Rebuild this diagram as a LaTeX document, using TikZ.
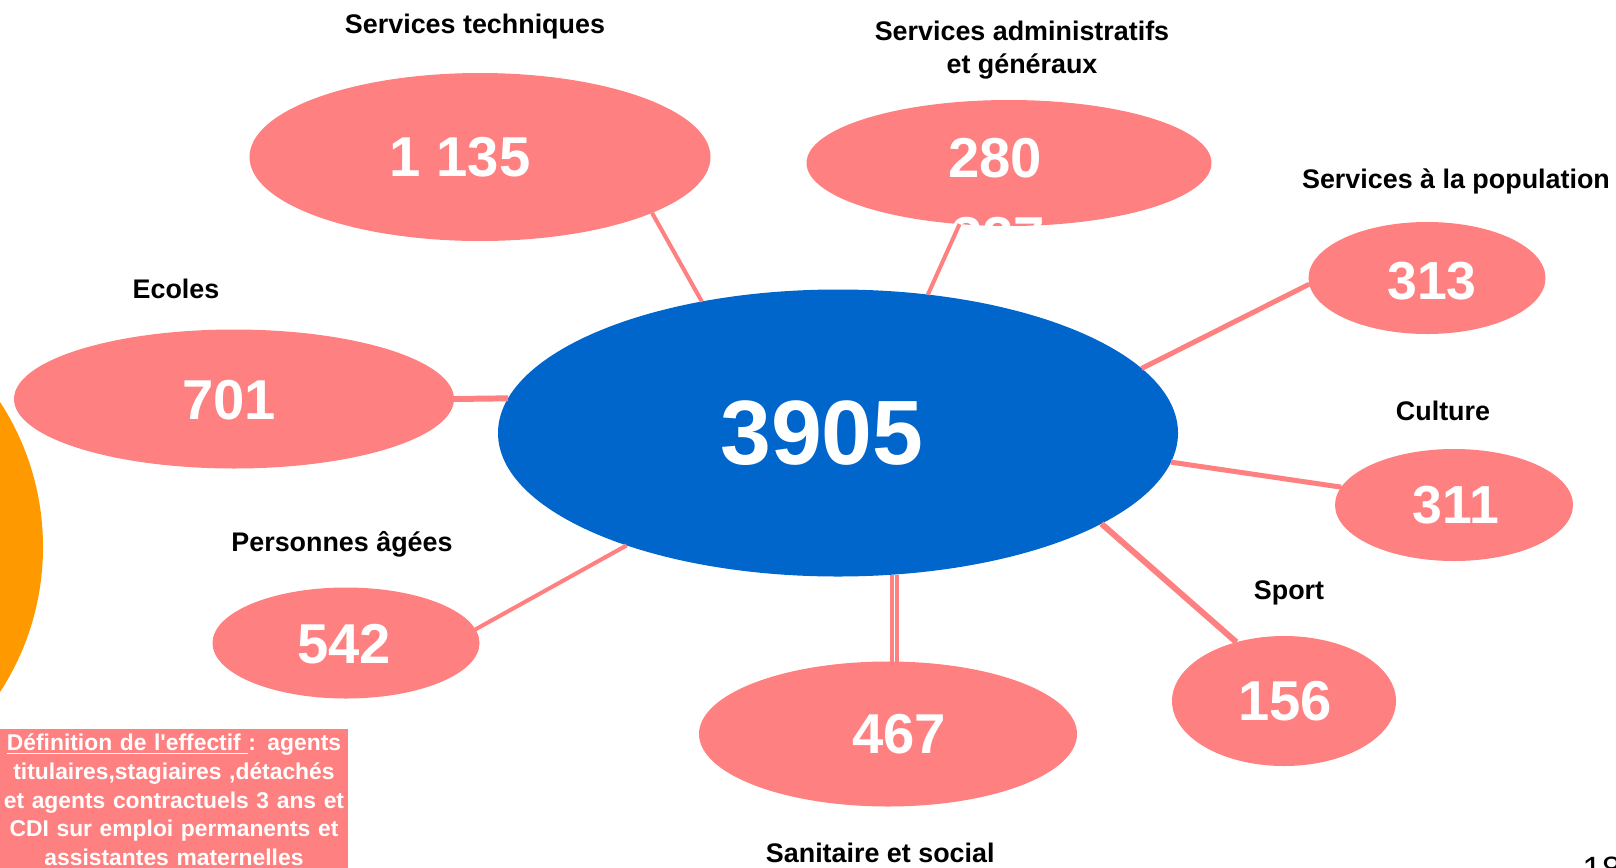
\documentclass[tikz,border=0pt]{standalone}
\usepackage{fontspec}
\setmainfont{Liberation Sans}
\newfontfamily\plainsans{Liberation Sans}
\usetikzlibrary{shapes.geometric}
\definecolor{salmon}{HTML}{FF8080}
\definecolor{deepblue}{HTML}{0066CC}
\definecolor{amber}{HTML}{FF9900}
\tikzset{
  bubble/.style={ellipse, fill=salmon, inner sep=0pt, outer sep=0pt},
  count/.style={text=white, inner sep=0pt},
  caption/.style={font=\bfseries\fontsize{15.3}{18.8}\selectfont, align=center},
  link/.style={draw=salmon, line width=2.3pt},
}
\begin{document}
\begin{tikzpicture}[x=0.2mm, y=-0.2mm]
\useasboundingbox (0,0) rectangle (1616,867);

% orange arc at the left edge
\fill[amber] (-223,547) circle[radius=53.2mm];

% centre
\node[bubble, fill=deepblue, minimum width=136mm, minimum height=57.4mm] (total) at (838,433) {};
\node[count, font=\bfseries\fontsize{52}{52}\selectfont] (ntotal) at (822,433) {3905};

% services
\foreach \nm/\x/\y/\w/\h in {
    tech/480/157/461/168,
    admin/1009/163/405/126,
    popu/1427/278/237/112,
    cult/1454/505/238/112,
    sport/1284/701/224/130,
    sani/888/734/378/145,
    agees/346/643/267/111,
    ecoles/234/399/440/139
} {
    \node[bubble, minimum width=\w*0.2mm, minimum height=\h*0.2mm] (\nm) at (\x,\y) {};
}

\foreach \nm/\x/\y/\fs/\val in {
    tech/460/157/32/1 135,
    admin/995/158/32/280,
    popu/1432/281/30.5/313,
    cult/1456/505/30.5/311,
    sport/1285/701/32/156,
    sani/899/734/32/467,
    agees/344/644/32/542,
    ecoles/229/400/32/701
} {
    \node[count, font=\bfseries\fontsize{\fs}{\fs}\selectfont] (n\nm) at (\x,\y) {\val};
}

% second figure hidden under the 280 bubble
\begin{scope}
\clip (1009,163) ellipse (40.5mm and 12.6mm);
\node[count, font=\bfseries\fontsize{32}{32}\selectfont] (nhidden) at (998,237) {327};
\end{scope}

% names of the services
\foreach \nm/\x/\y/\txt in {
    tech/475/27/Services techniques,
    admin/1022/50/Services administratifs\\et généraux,
    popu/1456/181/Services à la population,
    ecoles/176/289/Ecoles,
    cult/1443/411/Culture,
    agees/342/544/Personnes âgées,
    sport/1289/593/Sport,
    sani/884/853/Sanitaire et social
} {
    \node[caption] (c\nm) at (\x,\y) {\txt};
}

% connectors
\draw[link] (tech.-18) -- (total.136.5);
\draw[link] (admin.231.6) -- (total.57.6);
\draw[link, line width=2.85pt] (popu.183.9) -- (total.12.5);
\draw[link, line width=2.85pt] (cult.171.5) -- (total.-5.1);
\draw[link, line width=3.4pt] (sport.129) -- (total.-19.7);
\draw[link] (agees.6.1) -- (total.208.5);
\draw[link, line width=3.4pt] (ecoles.0) -- (total.174.3);
\draw[link] (total.-69) -- (total.-69 |- sani.north);
\draw[link] ([xshift=1mm]total.-69) -- ([xshift=1mm]total.-69 |- sani.north);

% definition
\node[fill=salmon, text=white, font=\bfseries\fontsize{13}{16.3}\selectfont, align=center,
      text width=69.6mm, inner xsep=0pt, inner ysep=3pt] (defin) at (174,800)
  {\underline{Définition de l{\plainsans '}effectif }: agents\\titulaires,stagiaires ,détachés\\et agents contractuels 3 ans et\\CDI sur emploi permanents et\\assistantes maternelles};

% page number
\node[font=\fontsize{20}{20}\selectfont, anchor=north west, inner sep=0pt] (page) at (1582,857) {18};
\end{tikzpicture}
\end{document}
